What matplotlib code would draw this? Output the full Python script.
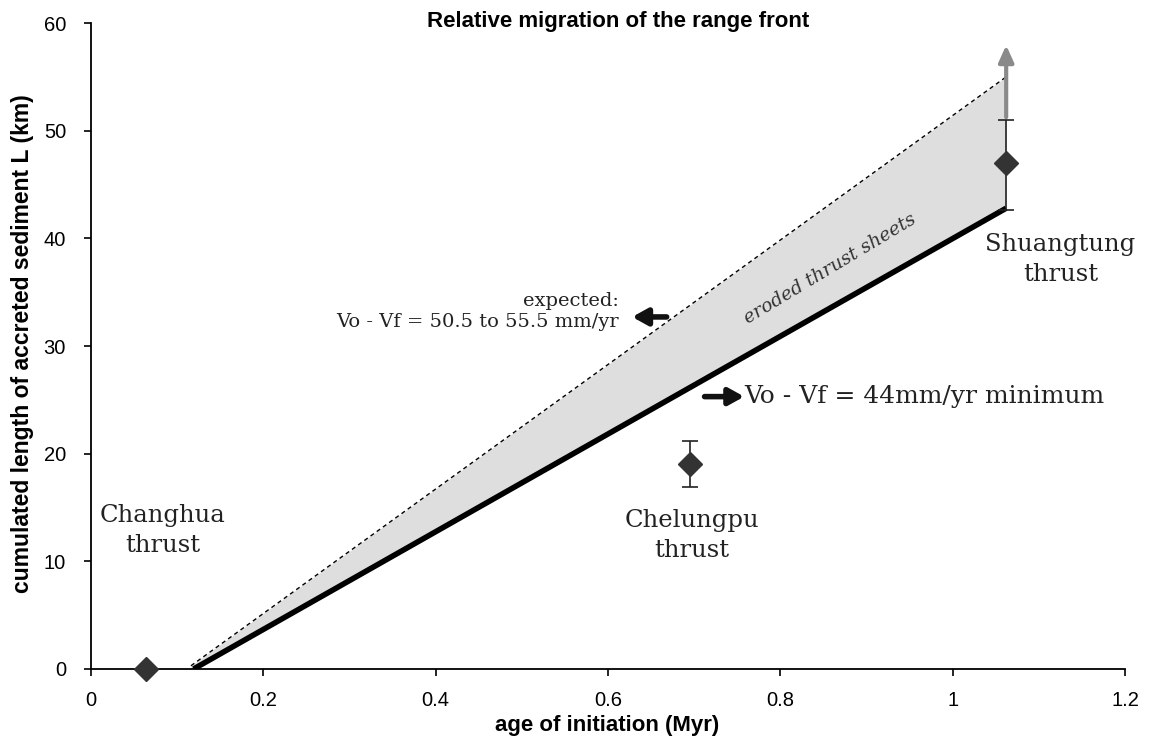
import numpy as np
import matplotlib.pyplot as plt

# data
sites = ['Changhua\nthrust', 'Chelungpu\nthrust', 'Shuangtung\nthrust']
age = [0.064, 0.695, 1.062]
length = [0.0, 19.0, 47.0]
err_lo = [0.0, 2.1, 4.4]
err_hi = [0.0, 2.2, 4.0]

min_x = [0.119, 1.062]      # Vo - Vf = 44 mm/yr minimum
min_y = [0.0, 42.8]
exp_x = [0.116, 1.062]      # expected 50.5 - 55.5 mm/yr
exp_y = [0.3, 55.0]

xticks = [0, 0.2, 0.4, 0.6, 0.8, 1, 1.2]
xticklabels = ['0', '0.2', '0.4', '0.6', '0.8', '1', '1.2']
yticks = [0, 10, 20, 30, 40, 50, 60]

plt.rcParams['font.family'] = ['Liberation Sans', 'DejaVu Sans']
serif = 'DejaVu Serif'

fig = plt.figure(figsize=[11.49, 7.43], dpi=100)
ax = fig.add_axes([0.0792, 0.0996, 0.9, 0.8694])

# shaded wedge between the two lines
ax.fill_between(exp_x, np.interp(exp_x, min_x, min_y, left=0), exp_y,
                color='#dedede', lw=0, zorder=1)
ax.plot(exp_x, exp_y, ls=(0, (3, 2.5)), color='k', lw=1, zorder=2)
ax.plot(min_x, min_y, color='k', lw=4, solid_capstyle='butt', zorder=3)

# grey arrow on top of Shuangtung error bar
ax.annotate('', xy=(age[2], 58.2), xytext=(age[2], length[2] + err_hi[2]),
            arrowprops=dict(arrowstyle='-|>,head_width=0.45,head_length=1.0',
                            color='#8a8a8a', lw=3), zorder=4)

ax.errorbar(age, length, yerr=[err_lo, err_hi], fmt='D', color='#333333',
            ms=12, ecolor='#222222', elinewidth=1.2, capsize=6, capthick=1.2,
            zorder=5, clip_on=False)

# labels of thrusts
lab_x = [0.083, 0.697, 1.125]
lab_y = [12.9, 12.4, 38.0]
for s, x, y in zip(sites, lab_x, lab_y):
    ax.text(x, y, s, ha='center', va='center', family=serif, fontsize=17.5,
            color='#222222', linespacing=1.4)

ax.text(0.612, 33.2, 'expected:\nVo - Vf = 50.5 to 55.5 mm/yr', ha='right',
        va='center', family=serif, fontsize=14, color='#222222',
        multialignment='right', linespacing=1.2)
ax.annotate('', xy=(0.628, 32.7), xytext=(0.668, 32.7),
            arrowprops=dict(arrowstyle='-|>,head_width=0.5,head_length=0.9',
                            color='#111111', lw=4, shrinkA=0, shrinkB=0))

ax.text(0.758, 25.3, 'Vo - Vf = 44mm/yr minimum', ha='left', va='center',
        family=serif, fontsize=18, color='#222222')
ax.annotate('', xy=(0.758, 25.3), xytext=(0.712, 25.3),
            arrowprops=dict(arrowstyle='-|>,head_width=0.5,head_length=0.9',
                            color='#111111', lw=4, shrinkA=0, shrinkB=0))

ax.text(0.858, 37.2, 'eroded thrust sheets', ha='center', va='center',
        family=serif, style='italic', fontsize=13.5, color='#333333',
        rotation=31)

ax.set_xlim(0, 1.2)
ax.set_ylim(0, 60)
ax.set_xticks(xticks)
ax.set_xticklabels(xticklabels)
ax.set_yticks(yticks)
ax.tick_params(labelsize=14.5, direction='out', length=5, width=1.2)
ax.tick_params(axis='x', pad=11)
ax.tick_params(axis='y', pad=13)
ax.spines['top'].set_visible(False)
ax.spines['right'].set_visible(False)
ax.spines['left'].set_linewidth(1.3)
ax.spines['bottom'].set_linewidth(1.3)

fig.text(607 / 1149, 1 - 725 / 743, 'age of initiation (Myr)', ha='center',
         va='center', fontsize=16, fontweight='bold')
fig.text(23 / 1149, 1 - 344 / 743, 'cumulated length of accreted sediment L (km)',
         ha='center', va='center', rotation=90, fontsize=16.5, fontweight='bold')
fig.text(618 / 1149, 1 - 21 / 743, 'Relative migration of the range front',
         ha='center', va='center', fontsize=16, fontweight='bold')

plt.savefig('out.png', dpi=100)
